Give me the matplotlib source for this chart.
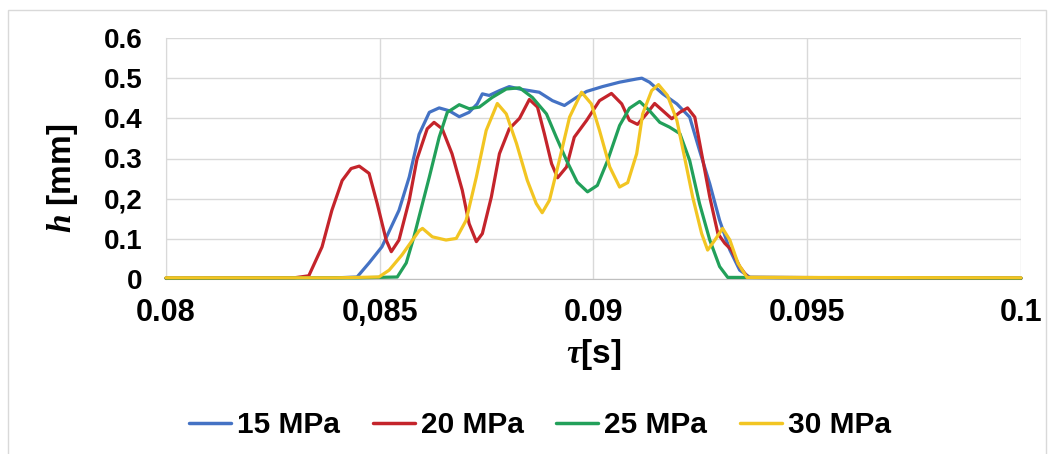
import matplotlib
matplotlib.use("Agg")
import matplotlib.pyplot as plt
from matplotlib.patches import Rectangle

plt.rcParams['font.family'] = ['Liberation Sans', 'DejaVu Sans']
plt.rcParams['mathtext.fontset'] = 'custom'
plt.rcParams['mathtext.it'] = 'Liberation Serif:italic:bold'
plt.rcParams['mathtext.rm'] = 'Liberation Sans:bold'

# ---------------- data ----------------
series_names = ["15 MPa", "20 MPa", "25 MPa", "30 MPa"]

t15 = [0.080, 0.0840, 0.08447, 0.08475, 0.08505, 0.08545, 0.08569, 0.08592, 0.08616, 0.08639,
       0.08662, 0.08686, 0.08709, 0.08728, 0.08740, 0.08756, 0.08780, 0.08803, 0.08827, 0.08850,
       0.08873, 0.08904, 0.08932, 0.08960, 0.08984, 0.09021, 0.09061, 0.09101, 0.09113, 0.09131,
       0.09162, 0.09195, 0.09225, 0.09248, 0.09272, 0.09295, 0.09319, 0.09342, 0.09366, 0.100]
h15 = [0.002, 0.003, 0.005, 0.040, 0.080, 0.171, 0.254, 0.360, 0.415, 0.426,
       0.419, 0.404, 0.415, 0.436, 0.461, 0.457, 0.469, 0.479, 0.473, 0.469,
       0.465, 0.444, 0.432, 0.452, 0.467, 0.479, 0.490, 0.498, 0.500, 0.490,
       0.461, 0.436, 0.403, 0.320, 0.237, 0.146, 0.072, 0.022, 0.004, 0.002]

t20 = [0.080, 0.0830, 0.08334, 0.08365, 0.08388, 0.08412, 0.08433, 0.08452, 0.08475, 0.08494,
       0.08515, 0.08527, 0.08545, 0.08569, 0.08587, 0.08611, 0.08627, 0.08646, 0.08669, 0.08693,
       0.08709, 0.08726, 0.08740, 0.08761, 0.08780, 0.08803, 0.08827, 0.08850, 0.08869, 0.08885,
       0.08902, 0.08916, 0.08937, 0.08955, 0.08984, 0.09014, 0.09042, 0.09066, 0.09084, 0.09103,
       0.09124, 0.09143, 0.09162, 0.09183, 0.09202, 0.09220, 0.09237, 0.09253, 0.09272, 0.09291,
       0.09307, 0.09323, 0.09342, 0.09361, 0.100]
h20 = [0.002, 0.003, 0.008, 0.080, 0.171, 0.245, 0.275, 0.281, 0.263, 0.188,
       0.097, 0.068, 0.097, 0.196, 0.298, 0.374, 0.390, 0.374, 0.312, 0.221,
       0.138, 0.093, 0.113, 0.204, 0.312, 0.374, 0.400, 0.447, 0.428, 0.362,
       0.287, 0.252, 0.279, 0.353, 0.395, 0.444, 0.462, 0.436, 0.395, 0.385,
       0.411, 0.437, 0.419, 0.399, 0.415, 0.426, 0.403, 0.312, 0.204, 0.113,
       0.089, 0.072, 0.031, 0.004, 0.002]

t25 = [0.080, 0.0845, 0.08541, 0.08562, 0.08580, 0.08592, 0.08616, 0.08639, 0.08658, 0.08686,
       0.08709, 0.08733, 0.08763, 0.08796, 0.08827, 0.08857, 0.08890, 0.08913, 0.08937, 0.08962,
       0.08986, 0.09009, 0.09033, 0.09061, 0.09084, 0.09108, 0.09131, 0.09155, 0.09178, 0.09202,
       0.09225, 0.09248, 0.09272, 0.09295, 0.09314, 0.100]
h25 = [0.002, 0.003, 0.005, 0.040, 0.105, 0.155, 0.254, 0.353, 0.415, 0.434,
       0.424, 0.428, 0.452, 0.473, 0.476, 0.452, 0.411, 0.353, 0.295, 0.241,
       0.217, 0.233, 0.295, 0.382, 0.425, 0.442, 0.419, 0.390, 0.378, 0.362,
       0.295, 0.188, 0.097, 0.031, 0.004, 0.002]

t30 = [0.080, 0.0840, 0.08498, 0.08522, 0.08552, 0.08592, 0.08600, 0.08623, 0.08655, 0.08679,
       0.08702, 0.08726, 0.08749, 0.08775, 0.08796, 0.08820, 0.08845, 0.08866, 0.08880, 0.08897,
       0.08920, 0.08944, 0.08972, 0.08995, 0.09014, 0.09038, 0.09061, 0.09080, 0.09101, 0.09115,
       0.09136, 0.09152, 0.09173, 0.09195, 0.09213, 0.09232, 0.09253, 0.09267, 0.09284, 0.09302,
       0.09319, 0.09338, 0.09359, 0.100]
h30 = [0.003, 0.003, 0.005, 0.022, 0.060, 0.120, 0.126, 0.105, 0.097, 0.101,
       0.146, 0.254, 0.370, 0.437, 0.411, 0.337, 0.246, 0.188, 0.165, 0.196,
       0.295, 0.403, 0.465, 0.436, 0.370, 0.279, 0.229, 0.240, 0.312, 0.411,
       0.469, 0.484, 0.457, 0.395, 0.303, 0.204, 0.113, 0.072, 0.097, 0.126,
       0.097, 0.039, 0.004, 0.003]

x_ticks = [0.08, 0.085, 0.09, 0.095, 0.1]
x_tick_labels = ["0.08", "0,085", "0.09", "0.095", "0.1"]
y_ticks = [0, 0.1, 0.2, 0.3, 0.4, 0.5, 0.6]
y_tick_labels = ["0", "0.1", "0,2", "0.3", "0.4", "0.5", "0.6"]

colors = ["#4472C4", "#C4242B", "#22A05A", "#F2C522"]

# ---------------- figure ----------------
W, H = 1054, 454
fig = plt.figure(figsize=(W / 100, H / 100), dpi=100)
fig.patch.set_facecolor("white")

# outer chart border
fig.patches.append(Rectangle((8 / W, -0.05), (1046 - 8) / W, (H - 10) / H + 0.05,
                             transform=fig.transFigure, fill=False,
                             edgecolor="#D9D9D9", linewidth=1.0))

ax = fig.add_axes([166 / W, (H - 279) / H, (1021 - 166) / W, (279 - 38) / H])

for t, h, c, n in zip([t15, t20, t25, t30], [h15, h20, h25, h30], colors, series_names):
    ax.plot(t, h, color=c, linewidth=2.3, label=n, solid_joinstyle="round",
            solid_capstyle="round", clip_on=False, zorder=3)

ax.set_xlim(0.08, 0.1)
ax.set_ylim(0, 0.6)
ax.set_xticks(x_ticks)
ax.set_xticklabels(x_tick_labels, fontsize=22, fontweight="bold")
ax.set_yticks(y_ticks)
ax.set_yticklabels(y_tick_labels, fontsize=20, fontweight="bold")
ax.tick_params(axis="both", length=0)
ax.tick_params(axis="x", pad=14)
ax.tick_params(axis="y", pad=17)

ax.grid(True, color="#D9D9D9", linewidth=1.0, zorder=0)
for s in ["top", "right"]:
    ax.spines[s].set_visible(False)
ax.spines["left"].set_color("#D9D9D9")
ax.spines["bottom"].set_color("#BFBFBF")
ax.set_axisbelow(True)

fig.text(594 / W, 1 - 355 / H, r"$\tau$[s]", fontsize=24, fontweight="bold",
         ha="center", va="center")
fig.text(62 / W, 1 - 178 / H, r"$h$ [mm]", fontsize=24, fontweight="bold",
         ha="center", va="center", rotation=90)

leg = fig.legend(loc="center", bbox_to_anchor=(540 / W, 1 - 425 / H), ncol=4,
                 frameon=False, prop={"size": 21.5, "weight": "bold"},
                 handlelength=1.4, handletextpad=0.2, columnspacing=1.1,
                 borderpad=0, borderaxespad=0)
for line in leg.get_lines():
    line.set_linewidth(2.5)

fig.savefig("out.png", dpi=100)
